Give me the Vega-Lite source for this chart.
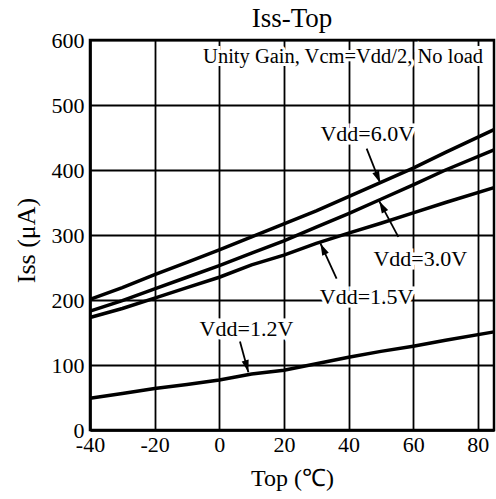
{
  "$schema": "https://vega.github.io/schema/vega-lite/v6.json",
  "autosize": "none",
  "width": 404,
  "height": 390,
  "padding": {"left": 90, "top": 40, "right": 2, "bottom": 69},
  "background": "white",
  "config": {
    "font": "Liberation Serif",
    "view": {"stroke": "black", "strokeWidth": 2.5},
    "axis": {
      "grid": true, "gridColor": "black", "gridWidth": 1.8, "gridOpacity": 1,
      "ticks": false, "domainColor": "black", "domainWidth": 2.5,
      "labelColor": "black", "labelFontSize": 22, "labelFont": "Liberation Serif",
      "titleColor": "black", "titleFont": "Liberation Serif", "titleFontWeight": "normal",
      "labelOverlap": false, "labelFlush": false, "labelExpr": "'' + datum.value"
    }
  },
  "title": {"text": "Iss-Top", "fontSize": 27, "fontWeight": "normal", "font": "Liberation Serif", "color": "black", "baseline": "alphabetic", "offset": 10, "dy": 35, "anchor": "middle"},
  "datasets": {
    "curves": [
      {"series": "6.0V", "Top": -40, "Iss": 201}, {"series": "6.0V", "Top": -30, "Iss": 219}, {"series": "6.0V", "Top": -20, "Iss": 239}, {"series": "6.0V", "Top": -10, "Iss": 258}, {"series": "6.0V", "Top": 0, "Iss": 277}, {"series": "6.0V", "Top": 10, "Iss": 297}, {"series": "6.0V", "Top": 20, "Iss": 317}, {"series": "6.0V", "Top": 30, "Iss": 337}, {"series": "6.0V", "Top": 40, "Iss": 359}, {"series": "6.0V", "Top": 50, "Iss": 381}, {"series": "6.0V", "Top": 60, "Iss": 403}, {"series": "6.0V", "Top": 70, "Iss": 427}, {"series": "6.0V", "Top": 85, "Iss": 462},
      {"series": "3.0V", "Top": -40, "Iss": 183}, {"series": "3.0V", "Top": -30, "Iss": 199}, {"series": "3.0V", "Top": -20, "Iss": 217}, {"series": "3.0V", "Top": -10, "Iss": 235}, {"series": "3.0V", "Top": 0, "Iss": 253}, {"series": "3.0V", "Top": 10, "Iss": 272}, {"series": "3.0V", "Top": 20, "Iss": 291}, {"series": "3.0V", "Top": 30, "Iss": 312}, {"series": "3.0V", "Top": 40, "Iss": 333}, {"series": "3.0V", "Top": 50, "Iss": 355}, {"series": "3.0V", "Top": 60, "Iss": 377}, {"series": "3.0V", "Top": 70, "Iss": 400}, {"series": "3.0V", "Top": 85, "Iss": 431},
      {"series": "1.5V", "Top": -40, "Iss": 173}, {"series": "1.5V", "Top": -30, "Iss": 187}, {"series": "1.5V", "Top": -20, "Iss": 203}, {"series": "1.5V", "Top": -10, "Iss": 219}, {"series": "1.5V", "Top": 0, "Iss": 235}, {"series": "1.5V", "Top": 10, "Iss": 254}, {"series": "1.5V", "Top": 20, "Iss": 269}, {"series": "1.5V", "Top": 30, "Iss": 287}, {"series": "1.5V", "Top": 40, "Iss": 303}, {"series": "1.5V", "Top": 50, "Iss": 318}, {"series": "1.5V", "Top": 60, "Iss": 334}, {"series": "1.5V", "Top": 70, "Iss": 350}, {"series": "1.5V", "Top": 85, "Iss": 373},
      {"series": "1.2V", "Top": -40, "Iss": 49}, {"series": "1.2V", "Top": -30, "Iss": 56}, {"series": "1.2V", "Top": -20, "Iss": 64}, {"series": "1.2V", "Top": -10, "Iss": 70}, {"series": "1.2V", "Top": 0, "Iss": 77}, {"series": "1.2V", "Top": 10, "Iss": 86}, {"series": "1.2V", "Top": 20, "Iss": 92}, {"series": "1.2V", "Top": 30, "Iss": 102}, {"series": "1.2V", "Top": 40, "Iss": 112}, {"series": "1.2V", "Top": 50, "Iss": 121}, {"series": "1.2V", "Top": 60, "Iss": 129}, {"series": "1.2V", "Top": 70, "Iss": 138}, {"series": "1.2V", "Top": 85, "Iss": 151}
    ],
    "labels": [
      {"label": "Vdd=6.0V", "Top": 45.8, "Iss": 455},
      {"label": "Vdd=3.0V", "Top": 62.2, "Iss": 263},
      {"label": "Vdd=1.5V", "Top": 45.6, "Iss": 204},
      {"label": "Vdd=1.2V", "Top": 8.4, "Iss": 156}
    ],
    "arrows": [
      {"series": "6.0V", "tailTop": 45.6, "tailIss": 433, "tipTop": 49.8, "tipIss": 380},
      {"series": "3.0V", "tailTop": 55.4, "tailIss": 297, "tipTop": 49.5, "tipIss": 352},
      {"series": "1.5V", "tailTop": 36.3, "tailIss": 233, "tipTop": 31.3, "tipIss": 287},
      {"series": "1.2V", "tailTop": 6.4, "tailIss": 136, "tipTop": 9.0, "tipIss": 89}
    ],
    "note": [
      {"label": "Unity Gain, Vcm=Vdd/2, No load", "Top": 81.6, "Iss": 574}
    ]
  },
  "encoding": {
    "x": {"type": "quantitative", "scale": {"domain": [-40, 85], "nice": false, "zero": false},
          "axis": {"values": [-40, -20, 0, 20, 40, 60, 80], "labelPadding": 4, "title": "Top (℃)", "titleFontSize": 24, "titlePadding": 11}},
    "y": {"type": "quantitative", "scale": {"domain": [0, 600], "nice": false},
          "axis": {"values": [0, 100, 200, 300, 400, 500, 600], "labelPadding": 6, "title": "Iss (μA)", "titleFontSize": 26, "titlePadding": 12, "titleY": 200}}
  },
  "layer": [
    {
      "data": {"name": "curves"},
      "mark": {"type": "line", "color": "black", "strokeWidth": 3.5},
      "encoding": {"x": {"field": "Top"}, "y": {"field": "Iss"}, "detail": {"field": "series"}}
    },
    {
      "data": {"name": "arrows"},
      "mark": {"type": "rule", "color": "black", "strokeWidth": 1.8},
      "encoding": {"x": {"field": "tailTop"}, "y": {"field": "tailIss"}, "x2": {"field": "tipTop"}, "y2": {"field": "tipIss"}}
    },
    {
      "data": {"name": "arrows"},
      "transform": [{"filter": "datum.series == '6.0V'"}],
      "mark": {"type": "point", "shape": "M0,0L-0.3,1L0.3,1Z", "size": 576, "filled": true, "color": "black", "opacity": 1, "angle": 158},
      "encoding": {"x": {"field": "tipTop"}, "y": {"field": "tipIss"}}
    },
    {
      "data": {"name": "arrows"},
      "transform": [{"filter": "datum.series == '3.0V'"}],
      "mark": {"type": "point", "shape": "M0,0L-0.3,1L0.3,1Z", "size": 576, "filled": true, "color": "black", "opacity": 1, "angle": -28.5},
      "encoding": {"x": {"field": "tipTop"}, "y": {"field": "tipIss"}}
    },
    {
      "data": {"name": "arrows"},
      "transform": [{"filter": "datum.series == '1.5V'"}],
      "mark": {"type": "point", "shape": "M0,0L-0.3,1L0.3,1Z", "size": 576, "filled": true, "color": "black", "opacity": 1, "angle": -25},
      "encoding": {"x": {"field": "tipTop"}, "y": {"field": "tipIss"}}
    },
    {
      "data": {"name": "arrows"},
      "transform": [{"filter": "datum.series == '1.2V'"}],
      "mark": {"type": "point", "shape": "M0,0L-0.3,1L0.3,1Z", "size": 576, "filled": true, "color": "black", "opacity": 1, "angle": 164.5},
      "encoding": {"x": {"field": "tipTop"}, "y": {"field": "tipIss"}}
    },
    {
      "data": {"name": "labels"},
      "mark": {"type": "text", "fontSize": 22, "baseline": "middle", "align": "center", "fill": "white", "stroke": "white", "strokeWidth": 7},
      "encoding": {"x": {"field": "Top"}, "y": {"field": "Iss"}, "text": {"field": "label"}}
    },
    {
      "data": {"name": "labels"},
      "mark": {"type": "text", "fontSize": 22, "baseline": "middle", "align": "center", "color": "black"},
      "encoding": {"x": {"field": "Top"}, "y": {"field": "Iss"}, "text": {"field": "label"}}
    },
    {
      "data": {"name": "note"},
      "mark": {"type": "text", "fontSize": 20.5, "baseline": "middle", "align": "right", "fill": "white", "stroke": "white", "strokeWidth": 6},
      "encoding": {"x": {"field": "Top"}, "y": {"field": "Iss"}, "text": {"field": "label"}}
    },
    {
      "data": {"name": "note"},
      "mark": {"type": "text", "fontSize": 20.5, "baseline": "middle", "align": "right", "color": "black"},
      "encoding": {"x": {"field": "Top"}, "y": {"field": "Iss"}, "text": {"field": "label"}}
    }
  ]
}
